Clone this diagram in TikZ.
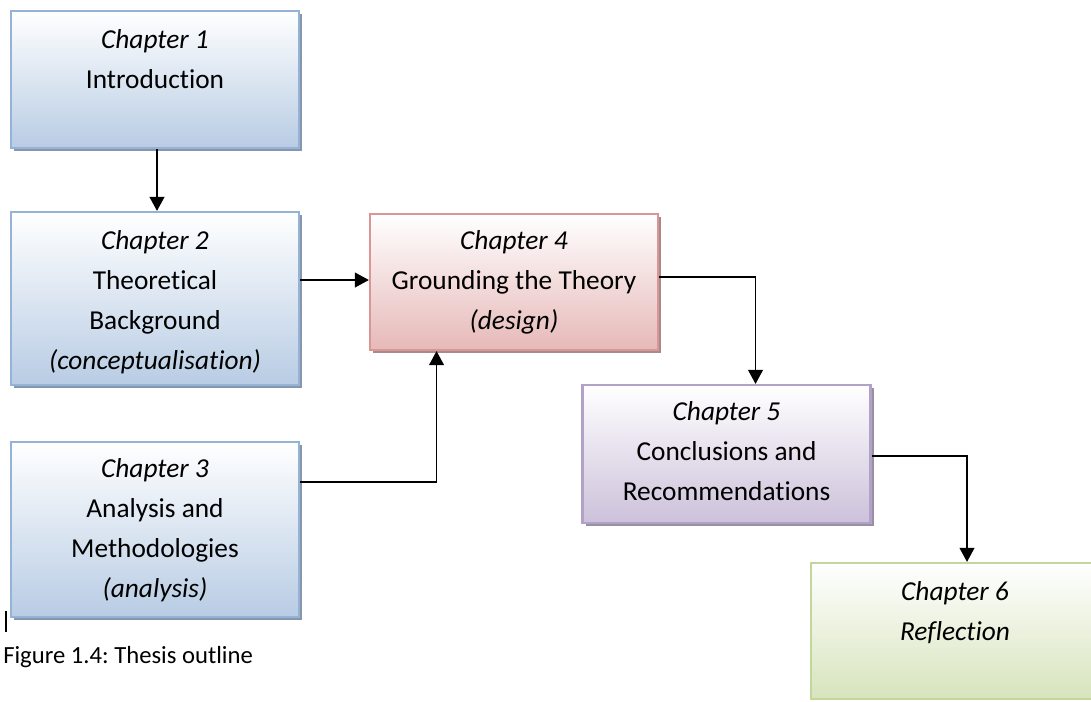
\documentclass[tikz,border=0pt]{standalone}
\usepackage{fontspec}
\setmainfont{Carlito}[Ligatures=NoCommon]
\usetikzlibrary{arrows.meta,calc,shadows}
\definecolor{bluebd}{HTML}{95B3D7}
\definecolor{bluefl}{HTML}{B8CCE4}
\definecolor{bluesh}{HTML}{8796AA}
\definecolor{redbd}{HTML}{D99694}
\definecolor{redfl}{HTML}{E6B9B8}
\definecolor{redsh}{HTML}{A88A8A}
\definecolor{purbd}{HTML}{B3A2C7}
\definecolor{purfl}{HTML}{CCC1DA}
\definecolor{pursh}{HTML}{9A90A6}
\definecolor{grnbd}{HTML}{C3D69B}
\definecolor{grnfl}{HTML}{D7E4BD}
\frenchspacing
\tikzset{
  boxbase/.style={draw, line width=1.6pt, minimum width=216pt, inner sep=0pt},
  bluebox/.style={boxbase, draw=bluebd, top color=white, bottom color=bluefl,
     drop shadow={shadow xshift=2.5pt, shadow yshift=-2.5pt, fill=bluesh, opacity=1}},
  redbox/.style={boxbase, draw=redbd, top color=white, bottom color=redfl,
     drop shadow={shadow xshift=2.5pt, shadow yshift=-2.5pt, fill=redsh, opacity=1}},
  purbox/.style={boxbase, draw=purbd, top color=white, bottom color=purfl,
     drop shadow={shadow xshift=2.5pt, shadow yshift=-2.5pt, fill=pursh, opacity=1}},
  grnbox/.style={boxbase, draw=grnbd, top color=white, bottom color=grnfl},
  txt/.style={align=center, inner sep=0pt, anchor=north, font=\fontsize{20.5}{30}\selectfont},
  arr/.style={line width=1.3pt, -{Triangle[width=11pt,length=10.5pt]}},
}
\begin{document}
\begin{tikzpicture}[x=0.75pt, y=-0.75pt]
\useasboundingbox (0,0) rectangle (1091,701);
\clip (0,0) rectangle (1091,701);
\fill[white] (0,0) rectangle (1091,701);

\node[bluebox, minimum height=102.75pt] (b1) at (155,79.5) {};
\node[bluebox, minimum height=129.75pt] (b2) at (155,298.5) {};
\node[bluebox, minimum height=131.25pt] (b3) at (155,529.5) {};
\node[redbox, minimum height=102pt] (b4) at (514,282) {};
\node[purbox, minimum height=103.5pt] (b5) at (726.5,454) {};
\node[grnbox, minimum height=102pt] (b6) at (955,631) {};

\node[txt] (t1) at ($(b1.north)+(0,10)$) {\itshape Chapter 1\strut\\ Introduction\strut};
\node[txt] (t2) at ($(b2.north)+(0,10)$) {\itshape Chapter 2\strut\\ Theoretical\strut\\ Background\strut\\ \itshape(conceptualisation)\strut};
\node[txt] (t3) at ($(b3.north)+(0,8)$) {\itshape Chapter 3\strut\\ Analysis and\strut\\ Methodologies\strut\\ \itshape(analysis)\strut};
\node[txt] (t4) at ($(b4.north)+(0,8)$) {\itshape Chapter 4\strut\\ Grounding the Theory\strut\\ \itshape(design)\strut};
\node[txt] (t5) at ($(b5.north)+(0,8)$) {\itshape Chapter 5\strut\\ Conclusions and\strut\\ Recommendations\strut};
\node[txt] (t6) at ($(b6.north)+(0,10)$) {\itshape Chapter 6\strut\\ \itshape Reflection\strut};

\draw[arr] ($(b1.south)+(2,0)$) coordinate (a1) -- (a1 |- b2.north);
\draw[arr] (b2.east |- 0,280) coordinate (a2) -- (a2 -| b4.west);
\draw[arr] (b3.east |- 0,482) -| ($(b4.south west)!0.233!(b4.south east)$);
\draw[arr] (b4.east |- 0,277) -| ($(b5.north west)!0.6!(b5.north east)$);
\draw[arr] (b5.east |- 0,456) -| ($(b6.north)+(12,0)$);

\coordinate (caret) at (6,611);
\draw[line width=0.8pt] (caret) -- ++(0,21);
\node[anchor=base west, inner sep=0pt, font=\fontsize{18.5}{22}\selectfont] (cap) at (3,663) {Figure 1.4: Thesis outline};
\end{tikzpicture}
\end{document}
